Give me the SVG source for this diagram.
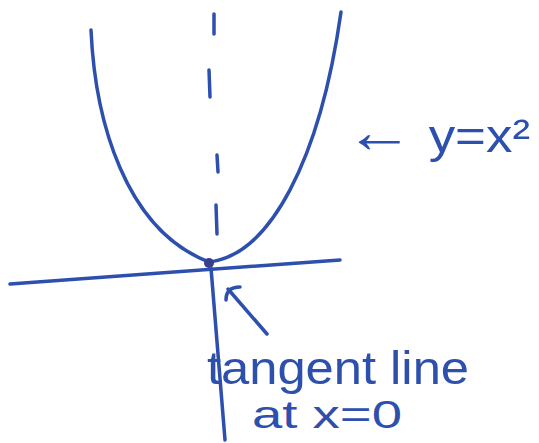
<svg xmlns="http://www.w3.org/2000/svg" width="539" height="443" viewBox="0 0 539 443">
<style>
.ink{fill:none;stroke:#2d4fae;stroke-width:3.5;stroke-linecap:round;stroke-linejoin:round}
.lbl{fill:#2d4fae;font-family:"Liberation Sans","DejaVu Sans",sans-serif}
</style>
<rect width="539" height="443" fill="#ffffff"/>
<g id="parabola">
<path class="ink" d="M91 30 C 95 120, 125 230, 209 262 C 270 255, 320 160, 341 12"/>
</g>
<g id="axis">
<path class="ink" d="M214 14 L214 34 M209 70 L210 97 M217 155 L218 172 M216 205 L217 234"/>
</g>
<g id="tangent">
<path class="ink" d="M10 284 L340 260"/>
</g>
<g id="vertex">
<circle cx="209" cy="263" r="5" fill="#3a3f8a"/>
</g>
<g id="connectors">
<path class="ink" d="M211 268 L225 440"/>
<path class="ink" d="M267 334 L228 289 M226 300 C 226 292, 230 287, 240 287"/>
</g>
<g id="label-curve">
<text class="lbl" x="345" y="152" font-size="46" textLength="185" lengthAdjust="spacingAndGlyphs"><tspan font-size="60">←</tspan> y=x²</text>
</g>
<g id="label-tangent">
<text class="lbl" x="207" y="384" font-size="46" textLength="262" lengthAdjust="spacingAndGlyphs">tangent line</text>
<text class="lbl" x="252" y="428" font-size="38" textLength="150" lengthAdjust="spacingAndGlyphs">at  x=0</text>
</g>
</svg>
